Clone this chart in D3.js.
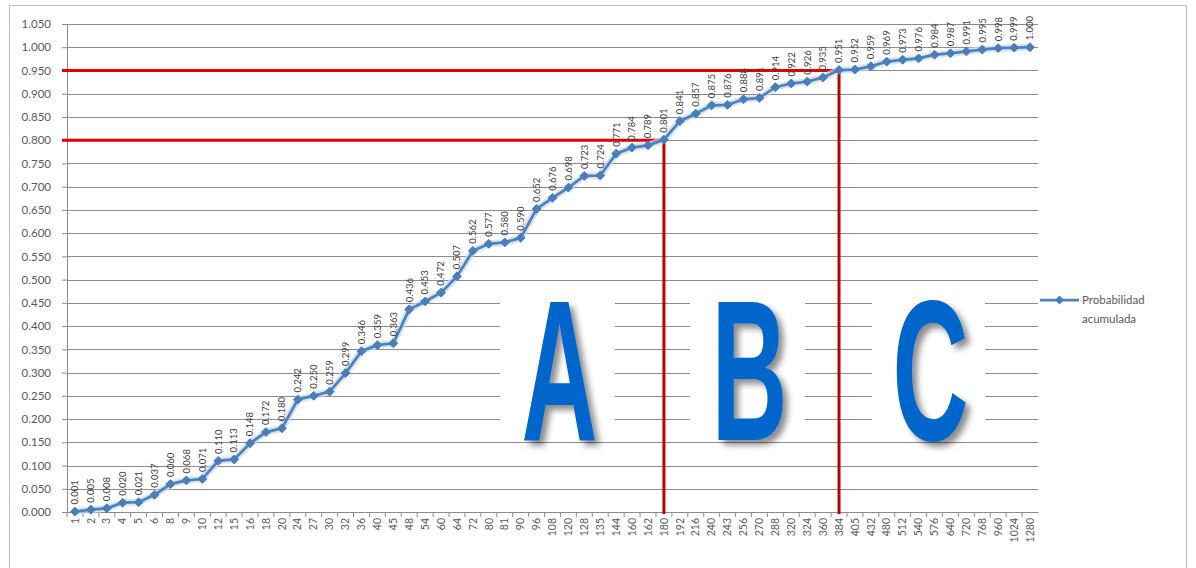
<!DOCTYPE html>
<html><head><meta charset="utf-8">
<script src="https://cdn.jsdelivr.net/npm/d3@7"></script>
<style>body{margin:0;background:#fff}svg{display:block}</style>
</head><body>
<svg id="c" width="1196" height="568"></svg>
<script>
const categories = ["1","2","3","4","5","6","8","9","10","12","15","16","18","20","24","27","30","32","36","40","45","48","54","60","64","72","80","81","90","96","108","120","128","135","144","160","162","180","192","216","240","243","256","270","288","320","324","360","384","405","432","480","512","540","576","640","720","768","960","1024","1280"];
const values = [0.001,0.005,0.008,0.020,0.021,0.037,0.060,0.068,0.071,0.110,0.113,0.148,0.172,0.180,0.242,0.250,0.259,0.299,0.346,0.359,0.363,0.436,0.453,0.472,0.507,0.562,0.577,0.580,0.590,0.652,0.676,0.698,0.723,0.724,0.771,0.784,0.789,0.801,0.841,0.857,0.875,0.876,0.888,0.891,0.914,0.922,0.926,0.935,0.951,0.952,0.959,0.969,0.973,0.976,0.984,0.987,0.991,0.995,0.998,0.999,1.000];
const yTicks = [0,0.05,0.1,0.15,0.2,0.25,0.3,0.35,0.4,0.45,0.5,0.55,0.6,0.65,0.7,0.75,0.8,0.85,0.9,0.95,1.0,1.05];
const seriesName = ["Probabilidad","acumulada"];
const cutoffs = [{cat:"180", p:0.80}, {cat:"384", p:0.95}];
const zoneLetters = [{t:"A", x0:500, x1:615}, {t:"B", x0:690, x1:805}, {t:"C", x0:872, x1:985}];

const svg = d3.select("#c");
const font = "Lato, 'Open Sans', sans-serif";
const x = d3.scaleBand().domain(categories).range([67,1038]);
const y = d3.scaleLinear().domain([0,1.05]).range([512,24]);
const cx = c => x(c) + x.bandwidth()/2;

const defs = svg.append("defs");
const f = defs.append("filter").attr("id","sh").attr("x","-20%").attr("y","-20%").attr("width","150%").attr("height","150%");
f.append("feDropShadow").attr("dx",5).attr("dy",5).attr("stdDeviation",3).attr("flood-color","#000").attr("flood-opacity",0.45);

// frame
svg.append("rect").attr("x",9.5).attr("y",5.5).attr("width",1177).attr("height",580)
  .attr("fill","#fff").attr("stroke","#bfbfbf");

// gridlines
svg.append("g").selectAll("line").data(yTicks).join("line")
  .attr("x1",67).attr("x2",1038).attr("y1",d=>Math.round(y(d))+0.5).attr("y2",d=>Math.round(y(d))+0.5)
  .attr("stroke","#8c8c8c").attr("stroke-width",1);

// y axis
const ya = svg.append("g").attr("transform","translate(67,0)")
  .call(d3.axisLeft(y).tickValues(yTicks).tickFormat(d3.format(".3f")).tickSize(5).tickPadding(11));
ya.select(".domain").attr("stroke","#8c8c8c");
ya.selectAll(".tick line").attr("stroke","#8c8c8c");
ya.selectAll("text").attr("font-family",font).attr("font-size",11.5).attr("fill","#595959");

// x axis
const xa = svg.append("g").attr("transform","translate(0,512)")
  .call(d3.axisBottom(x).tickSize(0).tickPadding(0));
xa.select(".domain").attr("stroke","#8c8c8c");
xa.selectAll(".tick text").attr("font-family",font).attr("font-size",10.5).attr("fill","#595959")
  .attr("text-anchor","end").attr("transform","translate(0,6) rotate(-90)").attr("dy","0.35em").attr("x",0).attr("y",0);
svg.append("g").selectAll("line").data(categories).join("line")
  .attr("x1",d=>x(d)).attr("x2",d=>x(d)).attr("y1",512).attr("y2",517).attr("stroke","#8c8c8c");

// white boxes + letters
const zl = svg.append("g");
zoneLetters.forEach(z=>{
  zl.append("rect").attr("x",z.x0).attr("y",290).attr("width",z.x1-z.x0).attr("height",148).attr("fill","#fff");
});
zoneLetters.forEach(z=>{
  const w = 76;
  zl.append("text").text(z.t).attr("x",(z.x0+z.x1)/2 - w/2 + 2).attr("y",440)
    .attr("font-family","'Liberation Sans', Arial, sans-serif").attr("font-weight","bold").attr("font-size",200)
    .attr("textLength",w).attr("lengthAdjust","spacingAndGlyphs")
    .attr("fill","#0066cc").attr("filter","url(#sh)");
});

// red cutoff lines
const rl = svg.append("g");
cutoffs.forEach(c=>{
  rl.append("line").attr("x1",62).attr("x2",cx(c.cat)).attr("y1",y(c.p)).attr("y2",y(c.p))
    .attr("stroke","#e00000").attr("stroke-width",3);
  rl.append("line").attr("x1",cx(c.cat)).attr("x2",cx(c.cat)).attr("y1",y(c.p)-1.5).attr("y2",514)
    .attr("stroke","#c00000").attr("stroke-width",3);
});

// series
const data = categories.map((c,i)=>({c, v:values[i]}));
const line = d3.line().x(d=>cx(d.c)).y(d=>y(d.v));
svg.append("path").datum(data).attr("d",line).attr("fill","none").attr("stroke","#c6d9f0").attr("stroke-width",7).attr("stroke-opacity",0.7);
svg.append("path").datum(data).attr("d",line).attr("fill","none").attr("stroke","#4f81bd").attr("stroke-width",2.75);
const diamond = d3.symbol().type(d3.symbolDiamond2).size(50);
svg.append("g").selectAll("path").data(data).join("path")
  .attr("d",diamond).attr("transform",d=>`translate(${cx(d.c)},${y(d.v)})`)
  .attr("fill","#4a7ebb").attr("stroke","#4a7ebb").attr("stroke-width",1);

// data labels
svg.append("g").selectAll("text").data(data).join("text")
  .text(d=>d3.format(".3f")(d.v))
  .attr("transform",d=>`translate(${cx(d.c)},${y(d.v)-7}) rotate(-90)`)
  .attr("dy","0.35em").attr("text-anchor","start")
  .attr("font-family",font).attr("font-size",9.5).attr("fill","#404040");

// legend
const lg = svg.append("g");
lg.append("line").attr("x1",1040).attr("x2",1079).attr("y1",300).attr("y2",300).attr("stroke","#4f81bd").attr("stroke-width",2.75);
lg.append("path").attr("d",diamond).attr("transform","translate(1059.5,300)").attr("fill","#4a7ebb");
lg.selectAll("text").data(seriesName).join("text").text(d=>d)
  .attr("x",1082).attr("y",(d,i)=>304+i*19)
  .attr("font-family",font).attr("font-size",11.5).attr("fill","#595959");
</script>
</body></html>
